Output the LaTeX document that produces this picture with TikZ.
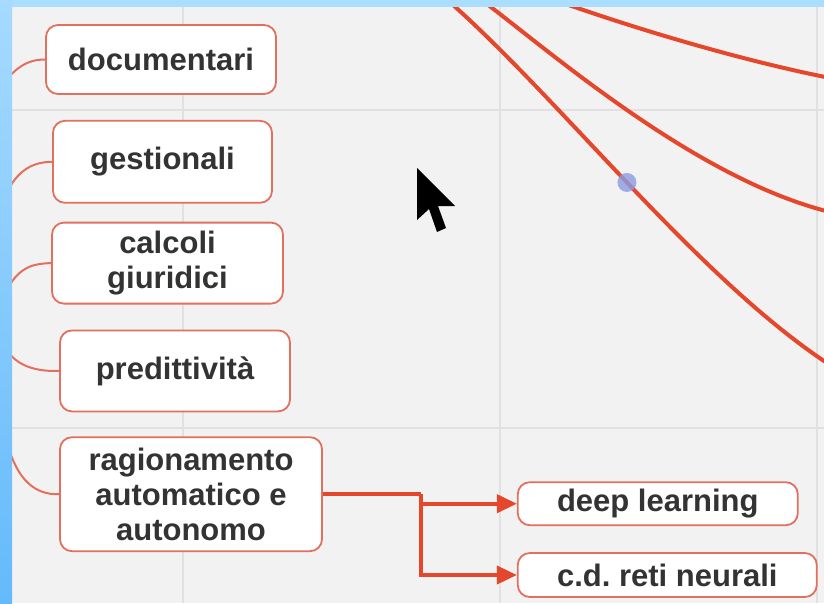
\documentclass[tikz,border=0pt]{standalone}
\usepackage{fontspec}
\setmainfont{Liberation Sans}
\usepackage{xcolor}
\usepackage{tikz}
\usetikzlibrary{arrows.meta,positioning}
\definecolor{mapred}{HTML}{E4472B}
\definecolor{boxline}{HTML}{E2705E}
\definecolor{canvas}{HTML}{F2F2F2}
\definecolor{gridgray}{HTML}{E1E1E1}
\definecolor{frametop}{HTML}{AADEFF}
\definecolor{frameleftA}{HTML}{A6DAFF}
\definecolor{frameleftB}{HTML}{64BAFB}
\definecolor{handleblue}{HTML}{8C9BE4}
\definecolor{inktext}{HTML}{333333}

\begin{document}
\begin{tikzpicture}[
  x=1pt, y=-1pt,
  node distance=25pt,
  box/.style={draw=boxline, fill=white, rounded corners=12pt, line width=1.8pt, align=center, text=inktext, font=\fontsize{31}{35}\selectfont\bfseries, inner sep=2pt},
  link/.style={draw=boxline, line width=2pt},
  branch/.style={draw=mapred, line width=4pt},
  arr/.style={-{Triangle[length=20pt,width=18pt]}, draw=mapred, line width=4pt},
  handle/.style={circle, fill=handleblue, fill opacity=0.8, minimum size=19pt, inner sep=0pt}
]
  \clip (0,0) rectangle (824,603);
  \fill[canvas] (0,0) rectangle (824,603);
  \foreach \gx in {183,500,817} \draw[gridgray, line width=1.5pt] (\gx,0) -- (\gx,603);
  \foreach \gy in {110,428} \draw[gridgray, line width=1.5pt] (0,\gy) -- (824,\gy);

  \coordinate (topA) at (452,4);
  \coordinate (offA) at (830,365);
  \coordinate (topB) at (487,4);
  \coordinate (offB) at (830,212);
  \coordinate (topC) at (560,2);
  \coordinate (offC) at (830,78);
  \draw[branch] (topA) .. controls (565,105) and (700,280) .. (offA) node[pos=0.48, handle] (grip) {};
  \draw[branch] (topB) .. controls (560,60) and (700,180) .. (offB);
  \draw[branch] (topC) .. controls (640,30) and (740,60) .. (offC);

  \node[box, minimum width=230pt, minimum height=69pt] (docs) at (161,59.5) {documentari};
  \node[box, minimum width=219pt, minimum height=82pt, below=25pt of docs, xshift=1.5pt] (gest) {gestionali};
  \node[box, minimum width=231pt, minimum height=81pt, below=18pt of gest, xshift=5pt] (calc) {calcoli\\giuridici};
  \node[box, minimum width=230pt, minimum height=81pt, below=25pt of calc, xshift=7.5pt] (pred) {predittività};
  \node[box, minimum width=262pt, minimum height=114pt, below=24pt of pred, xshift=16pt] (rag) {ragionamento\\automatico e\\autonomo};
  \node[box, minimum width=280pt, minimum height=43pt, right=194pt of rag, yshift=-9.5pt] (deep) {deep learning};
  \node[box, minimum width=299pt, minimum height=44pt, below=26pt of deep.south west, anchor=north west] (reti) {c.d.\ reti neurali};

  \coordinate (stemA) at (8,78);
  \coordinate (stemB) at (8,190);
  \coordinate (stemC) at (8,288);
  \coordinate (stemD) at (8,352);
  \coordinate (stemE) at (8,446);
  \draw[link] (stemA) .. controls (22,62) and (34,59.5) .. (docs.west);
  \draw[link] (stemB) .. controls (20,168) and (35,162) .. (gest.west);
  \draw[link] (stemC) .. controls (20,266) and (35,263.5) .. (calc.west);
  \draw[link] (stemD) .. controls (20,368) and (40,371.5) .. (pred.west);
  \draw[link] (stemE) .. controls (18,480) and (35,495) .. (rag.west);

  \draw[branch] (rag.east) -- ++(98,0) coordinate (fork);
  \draw[arr] (fork) |- (deep.west);
  \draw[arr] (fork) |- (reti.west);

  \fill[black] (417,168) -- (417,220) -- (429,209) -- (437,232) -- (446,228) -- (438,206) -- (455,206) -- cycle;

  \fill[frametop] (0,0) rectangle (824,7);
  \shade[top color=frameleftA, bottom color=frameleftB] (0,0) rectangle (12,603);
\end{tikzpicture}
\end{document}
